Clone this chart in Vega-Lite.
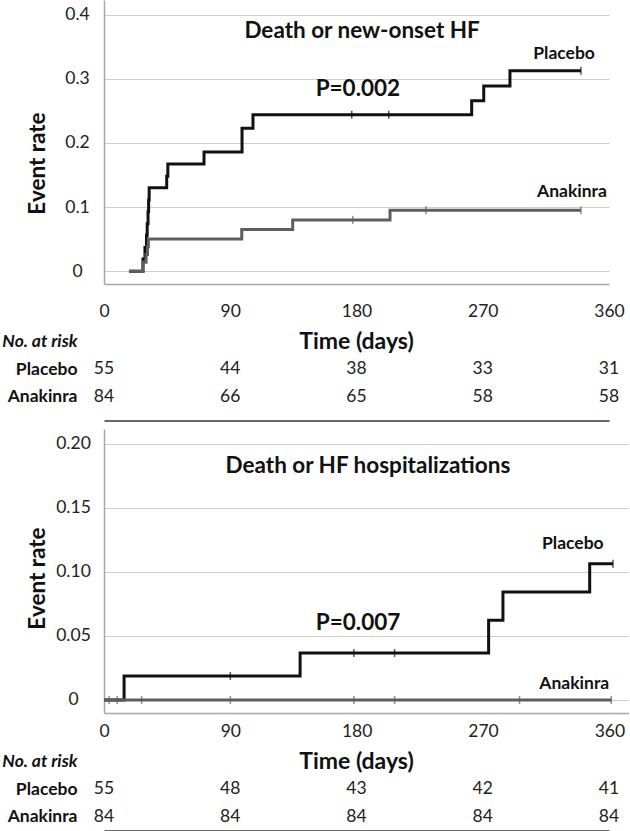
{
  "$schema": "https://vega.github.io/schema/vega-lite/v6.json",
  "padding": {"left": 1, "top": 0, "right": 0, "bottom": 0},
  "background": "white",
  "spacing": 8,
  "config": {"view": {"stroke": null}, "font": "Lato"},
  "datasets": {
    "km1": [
      {"group": "Placebo", "time": 17.8, "rate": 0},
      {"group": "Placebo", "time": 27.8, "rate": 0.019},
      {"group": "Placebo", "time": 29.2, "rate": 0.037},
      {"group": "Placebo", "time": 30.3, "rate": 0.056},
      {"group": "Placebo", "time": 30.8, "rate": 0.074},
      {"group": "Placebo", "time": 31.4, "rate": 0.093},
      {"group": "Placebo", "time": 31.8, "rate": 0.111},
      {"group": "Placebo", "time": 32.2, "rate": 0.13},
      {"group": "Placebo", "time": 44.7, "rate": 0.148},
      {"group": "Placebo", "time": 45.5, "rate": 0.167},
      {"group": "Placebo", "time": 71.3, "rate": 0.186},
      {"group": "Placebo", "time": 98.4, "rate": 0.223},
      {"group": "Placebo", "time": 106.2, "rate": 0.244},
      {"group": "Placebo", "time": 262.1, "rate": 0.266},
      {"group": "Placebo", "time": 270.7, "rate": 0.289},
      {"group": "Placebo", "time": 289.4, "rate": 0.3125},
      {"group": "Placebo", "time": 340, "rate": 0.3125},
      {"group": "Anakinra", "time": 17.8, "rate": 0},
      {"group": "Anakinra", "time": 27.8, "rate": 0.014},
      {"group": "Anakinra", "time": 30.0, "rate": 0.026},
      {"group": "Anakinra", "time": 31.0, "rate": 0.038},
      {"group": "Anakinra", "time": 31.6, "rate": 0.05},
      {"group": "Anakinra", "time": 98.2, "rate": 0.065},
      {"group": "Anakinra", "time": 134.5, "rate": 0.08},
      {"group": "Anakinra", "time": 203.9, "rate": 0.095},
      {"group": "Anakinra", "time": 340, "rate": 0.095}
    ],
    "cens1": [
      {"group": "Placebo", "time": 176.6, "rate": 0.244},
      {"group": "Placebo", "time": 203, "rate": 0.244},
      {"group": "Placebo", "time": 340, "rate": 0.3125},
      {"group": "Anakinra", "time": 177.3, "rate": 0.08},
      {"group": "Anakinra", "time": 229.5, "rate": 0.095},
      {"group": "Anakinra", "time": 340, "rate": 0.095}
    ],
    "labels1": [
      {"time": 184, "rate": 0.375, "label": "Death or new-onset HF", "kind": "title"},
      {"time": 181, "rate": 0.284, "label": "P=0.002", "kind": "title"},
      {"time": 328, "rate": 0.339, "label": "Placebo", "kind": "group"},
      {"time": 333.6, "rate": 0.123, "label": "Anakinra", "kind": "group"}
    ],
    "risk1": [
      {"group": "Placebo", "time": 0, "n": "55"},
      {"group": "Placebo", "time": 90, "n": "44"},
      {"group": "Placebo", "time": 180, "n": "38"},
      {"group": "Placebo", "time": 270, "n": "33"},
      {"group": "Placebo", "time": 360, "n": "31"},
      {"group": "Anakinra", "time": 0, "n": "84"},
      {"group": "Anakinra", "time": 90, "n": "66"},
      {"group": "Anakinra", "time": 180, "n": "65"},
      {"group": "Anakinra", "time": 270, "n": "58"},
      {"group": "Anakinra", "time": 360, "n": "58"}
    ],
    "km2": [
      {"group": "Placebo", "time": 0, "rate": 0},
      {"group": "Placebo", "time": 14.3, "rate": 0.0187},
      {"group": "Placebo", "time": 139.7, "rate": 0.0367},
      {"group": "Placebo", "time": 274, "rate": 0.0623},
      {"group": "Placebo", "time": 284.2, "rate": 0.0844},
      {"group": "Placebo", "time": 346, "rate": 0.1065},
      {"group": "Placebo", "time": 362.6, "rate": 0.1065},
      {"group": "Anakinra", "time": 0, "rate": 0},
      {"group": "Anakinra", "time": 361.4, "rate": 0}
    ],
    "cens2": [
      {"group": "Placebo", "time": 90, "rate": 0.0187},
      {"group": "Placebo", "time": 178, "rate": 0.0367},
      {"group": "Placebo", "time": 207, "rate": 0.0367},
      {"group": "Placebo", "time": 362.6, "rate": 0.1065},
      {"group": "Anakinra", "time": 3.6, "rate": 0},
      {"group": "Anakinra", "time": 9.4, "rate": 0},
      {"group": "Anakinra", "time": 26.8, "rate": 0},
      {"group": "Anakinra", "time": 90, "rate": 0},
      {"group": "Anakinra", "time": 178, "rate": 0},
      {"group": "Anakinra", "time": 207, "rate": 0},
      {"group": "Anakinra", "time": 296, "rate": 0},
      {"group": "Anakinra", "time": 361.4, "rate": 0}
    ],
    "labels2": [
      {"time": 188, "rate": 0.1828, "label": "Death or HF hospitalizations", "kind": "title"},
      {"time": 181, "rate": 0.06, "label": "P=0.007", "kind": "title"},
      {"time": 334, "rate": 0.1219, "label": "Placebo", "kind": "group"},
      {"time": 335, "rate": 0.0125, "label": "Anakinra", "kind": "group"}
    ],
    "risk2": [
      {"group": "Placebo", "time": 0, "n": "55"},
      {"group": "Placebo", "time": 90, "n": "48"},
      {"group": "Placebo", "time": 180, "n": "43"},
      {"group": "Placebo", "time": 270, "n": "42"},
      {"group": "Placebo", "time": 360, "n": "41"},
      {"group": "Anakinra", "time": 0, "n": "84"},
      {"group": "Anakinra", "time": 90, "n": "84"},
      {"group": "Anakinra", "time": 180, "n": "84"},
      {"group": "Anakinra", "time": 270, "n": "84"},
      {"group": "Anakinra", "time": 360, "n": "84"}
    ],
    "xtitle": [
      {"group": "No. at risk", "time": 180, "label": "Time (days)"}
    ]
  },
  "vconcat": [
    {
      "width": 505,
      "height": 284,
      "encoding": {
        "x": {"field": "time", "type": "quantitative",
          "scale": {"domain": [0, 360], "nice": false, "zero": false},
          "axis": {"values": [0, 90, 180, 270, 360], "title": null, "grid": false, "ticks": false, "tickSize": 0,
            "labelPadding": 18, "labelFontSize": 17.5, "labelColor": "#222222", "labelFlush": false, "labelOverlap": false,
            "domainColor": "#a6a6a6", "domainWidth": 1.5}},
        "y": {"field": "rate", "type": "quantitative",
          "scale": {"domain": [-0.02, 0.423], "nice": false, "zero": false},
          "axis": {"values": [0, 0.1, 0.2, 0.3, 0.4],
            "labelExpr": "datum.value == 0 ? '0' : format(datum.value, '.1f')",
            "title": "Event rate", "titleFontSize": 22.5, "titleFontWeight": "bold", "titleColor": "#111111",
            "titleX": -67, "titleY": 163, "titleBaseline": "middle", "titleAngle": -90,
            "grid": true, "gridColor": "#cccccc", "gridWidth": 1, "ticks": false, "tickSize": 0,
            "labelAlign": "center", "labelBaseline": "middle", "labelPadding": 27, "labelFontSize": 17.5, "labelColor": "#222222",
            "domainColor": "#a6a6a6", "domainWidth": 1.5}}
      },
      "layer": [
        {"data": {"name": "km1"},
          "mark": {"type": "line", "interpolate": "step-after", "strokeWidth": 3},
          "encoding": {"color": {"field": "group", "type": "nominal", "scale": {"domain": ["Placebo", "Anakinra"], "range": ["#111111", "#5e5e5e"]}, "legend": null},
            "detail": {"field": "group"}}},
        {"data": {"name": "cens1"},
          "mark": {"type": "tick", "orient": "vertical", "size": 8, "thickness": 1.5},
          "encoding": {"color": {"field": "group", "type": "nominal", "scale": {"domain": ["Placebo", "Anakinra"], "range": ["#111111", "#5e5e5e"]}, "legend": null}}},
        {"data": {"name": "labels1"},
          "transform": [{"filter": "datum.kind === 'title'"}],
          "mark": {"type": "text", "fontSize": 22.5, "fontWeight": "bold", "color": "#111111", "align": "center", "baseline": "middle"},
          "encoding": {"text": {"field": "label"}}},
        {"data": {"name": "labels1"},
          "transform": [{"filter": "datum.kind === 'group'"}],
          "mark": {"type": "text", "fontSize": 17.5, "fontWeight": "bold", "color": "#111111", "align": "center", "baseline": "middle"},
          "encoding": {"text": {"field": "label"}}}
      ]
    },
    {
      "width": 505,
      "height": 82.5,
      "encoding": {
        "x": {"field": "time", "type": "quantitative",
          "scale": {"domain": [0, 360], "nice": false, "zero": false},
          "axis": {"labels": false, "ticks": false, "grid": false, "title": null, "domainColor": "#333333", "domainWidth": 1.5, "offset": 10}},
        "y": {"field": "group", "type": "nominal",
          "scale": {"domain": ["No. at risk", "Placebo", "Anakinra"]},
          "axis": {"title": null, "ticks": false, "domain": false, "grid": false, "labelAlign": "right", "labelPadding": 27,
            "labelFontSize": 17.5, "labelFontWeight": "bold", "labelColor": "#111111",
            "labelFontStyle": {"condition": {"test": "datum.value === 'No. at risk'", "value": "italic"}, "value": "normal"}}}
      },
      "layer": [
        {"data": {"name": "risk1"},
          "mark": {"type": "text", "fontSize": 17.5, "color": "#222222"},
          "encoding": {"text": {"field": "n"}}},
        {"data": {"name": "xtitle"},
          "mark": {"type": "text", "fontSize": 23, "fontWeight": "bold", "color": "#111111"},
          "encoding": {"text": {"field": "label"}}}
      ]
    },
    {
      "width": 525,
      "height": 284,
      "encoding": {
        "x": {"field": "time", "type": "quantitative",
          "scale": {"domain": [0, 374], "nice": false, "zero": false},
          "axis": {"values": [0, 90, 180, 270, 360], "title": null, "grid": false, "ticks": false, "tickSize": 0,
            "labelPadding": 9, "labelFontSize": 17.5, "labelColor": "#222222", "labelFlush": false, "labelOverlap": false,
            "domainColor": "#a6a6a6", "domainWidth": 1.5}},
        "y": {"field": "rate", "type": "quantitative",
          "scale": {"domain": [-0.0102, 0.2117], "nice": false, "zero": false},
          "axis": {"values": [0, 0.05, 0.1, 0.15, 0.2],
            "labelExpr": "datum.value == 0 ? '0' : format(datum.value, '.2f')",
            "title": "Event rate", "titleFontSize": 22.5, "titleFontWeight": "bold", "titleColor": "#111111",
            "titleX": -67, "titleY": 149, "titleBaseline": "middle", "titleAngle": -90,
            "grid": true, "gridColor": "#cccccc", "gridWidth": 1, "ticks": false, "tickSize": 0,
            "labelAlign": "center", "labelBaseline": "middle", "labelPadding": 31, "labelFontSize": 17.5, "labelColor": "#222222",
            "domainColor": "#a6a6a6", "domainWidth": 1.5}}
      },
      "layer": [
        {"data": {"name": "km2"},
          "mark": {"type": "line", "interpolate": "step-after", "strokeWidth": 3},
          "encoding": {"color": {"field": "group", "type": "nominal", "scale": {"domain": ["Placebo", "Anakinra"], "range": ["#111111", "#5e5e5e"]}, "legend": null},
            "detail": {"field": "group"}}},
        {"data": {"name": "cens2"},
          "mark": {"type": "tick", "orient": "vertical", "size": 8, "thickness": 1.5},
          "encoding": {"color": {"field": "group", "type": "nominal", "scale": {"domain": ["Placebo", "Anakinra"], "range": ["#111111", "#5e5e5e"]}, "legend": null}}},
        {"data": {"name": "labels2"},
          "transform": [{"filter": "datum.kind === 'title'"}],
          "mark": {"type": "text", "fontSize": 22.5, "fontWeight": "bold", "color": "#111111", "align": "center", "baseline": "middle"},
          "encoding": {"text": {"field": "label"}}},
        {"data": {"name": "labels2"},
          "transform": [{"filter": "datum.kind === 'group'"}],
          "mark": {"type": "text", "fontSize": 17.5, "fontWeight": "bold", "color": "#111111", "align": "center", "baseline": "middle"},
          "encoding": {"text": {"field": "label"}}}
      ]
    },
    {
      "width": 505,
      "height": 82.5,
      "encoding": {
        "x": {"field": "time", "type": "quantitative",
          "scale": {"domain": [0, 360], "nice": false, "zero": false},
          "axis": {"labels": false, "ticks": false, "grid": false, "title": null, "domainColor": "#333333", "domainWidth": 1.5, "offset": 0}},
        "y": {"field": "group", "type": "nominal",
          "scale": {"domain": ["No. at risk", "Placebo", "Anakinra"]},
          "axis": {"title": null, "ticks": false, "domain": false, "grid": false, "labelAlign": "right", "labelPadding": 27,
            "labelFontSize": 17.5, "labelFontWeight": "bold", "labelColor": "#111111",
            "labelFontStyle": {"condition": {"test": "datum.value === 'No. at risk'", "value": "italic"}, "value": "normal"}}}
      },
      "layer": [
        {"data": {"name": "risk2"},
          "mark": {"type": "text", "fontSize": 17.5, "color": "#222222"},
          "encoding": {"text": {"field": "n"}}},
        {"data": {"name": "xtitle"},
          "mark": {"type": "text", "fontSize": 23, "fontWeight": "bold", "color": "#111111"},
          "encoding": {"text": {"field": "label"}}}
      ]
    }
  ]
}
